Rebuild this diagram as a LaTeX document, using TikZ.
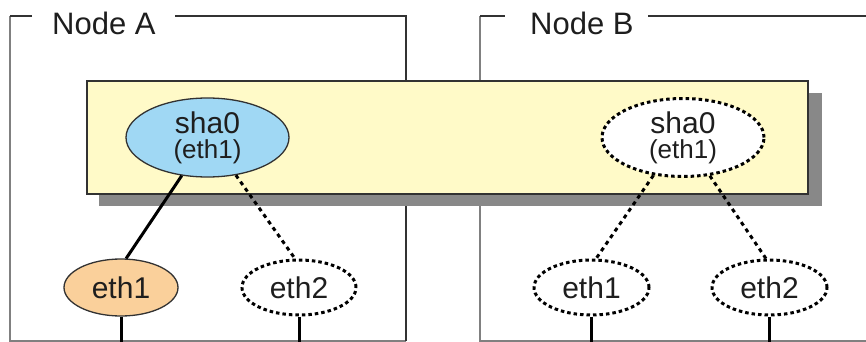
\documentclass[tikz,border=0pt]{standalone}
\usepackage{fontspec}
\setmainfont{Liberation Sans}
\usetikzlibrary{shapes.geometric}
\definecolor{shablue}{RGB}{160,216,244}
\definecolor{ethorange}{RGB}{250,208,155}
\definecolor{boxyellow}{RGB}{255,250,200}
\definecolor{shadowgray}{RGB}{136,136,136}
\definecolor{framedark}{RGB}{50,50,50}
\definecolor{framegray}{RGB}{128,128,128}
\definecolor{textblack}{RGB}{30,30,30}
\tikzset{
  framedk/.style={draw=framedark, line width=1.5pt},
  framelt/.style={draw=framegray, line width=2.2pt},
  framelabel/.style={anchor=base west, inner sep=0pt, text=textblack, font=\fontsize{31}{36}\selectfont},
  ifbox/.style={ellipse, inner sep=0pt, text=textblack, line width=1.3pt, draw=framedark},
  virt/.style={ellipse, inner sep=0pt, text=textblack, fill=white, draw=black, line width=3pt, dash pattern=on 3.5pt off 3pt},
  ethtext/.style={font=\fontsize{30}{36}\selectfont},
  shatext/.style={align=center, font=\fontsize{30}{25}\selectfont},
  solidlink/.style={draw=black, line width=3pt},
  dashlink/.style={draw=black, line width=3pt, dash pattern=on 4pt off 4pt},
  cable/.style={draw=black, line width=3pt}
}
\begin{document}
\begin{tikzpicture}[x=1pt,y=-1pt]
\useasboundingbox (0,0) rectangle (866,342);
% frames
\draw[framelt] (10,16) -- (10,341) -- (406,341);
\draw[framedk] (32,16) -- (10,16);
\draw[framedk] (175,16) -- (406,16) -- (406,341);
\node[framelabel] (labA) at (52,35) {Node A};
\draw[framelt] (480,16) -- (480,341) -- (866,341);
\draw[framedk] (480,16) -- (505,16);
\draw[framedk] (648,16) -- (866,16);
\node[framelabel] (labB) at (530,35) {Node B};
% shared box with shadow
\fill[shadowgray] (99,93) rectangle (822,206);
\draw[fill=boxyellow, draw=framedark, line width=1.6pt] (87,81) rectangle (808,194);
% interfaces
\node[ifbox, fill=shablue, minimum width=163pt, minimum height=79pt, shatext] (shaA) at (207.5,137.5) {sha0\\\fontsize{26}{25}\selectfont(eth1)};
\node[virt, minimum width=162pt, minimum height=78pt, shatext] (shaB) at (683,137.5) {sha0\\\fontsize{26}{25}\selectfont(eth1)};
\node[ifbox, fill=ethorange, minimum width=114pt, minimum height=57pt, ethtext] (e1A) at (121,287.5) {eth1};
\node[virt, minimum width=114pt, minimum height=55pt, ethtext] (e2A) at (299,287.5) {eth2};
\node[virt, minimum width=115pt, minimum height=55pt, ethtext] (e1B) at (591.5,287.5) {eth1};
\node[virt, minimum width=115pt, minimum height=55pt, ethtext] (e2B) at (769.5,287.5) {eth2};
% links
\draw[solidlink] (shaA.236) -- (e1A.80);
\draw[dashlink] (shaA.307) -- (e2A.98);
\draw[dashlink] (shaB.232) -- (e1B.81);
\draw[dashlink] (shaB.305) -- (e2B.97);
% cables
\coordinate (c1A) at (120,342);
\coordinate (c2A) at (299,342);
\coordinate (c1B) at (595,342);
\coordinate (c2B) at (770,342);
\draw[cable] (e1A.south) -- (e1A.south |- c1A);
\draw[cable] (e2A.south) -- (e2A.south |- c2A);
\draw[cable] (e1B.south) -- (e1B.south |- c1B);
\draw[cable] (e2B.south) -- (e2B.south |- c2B);
\end{tikzpicture}
\end{document}
